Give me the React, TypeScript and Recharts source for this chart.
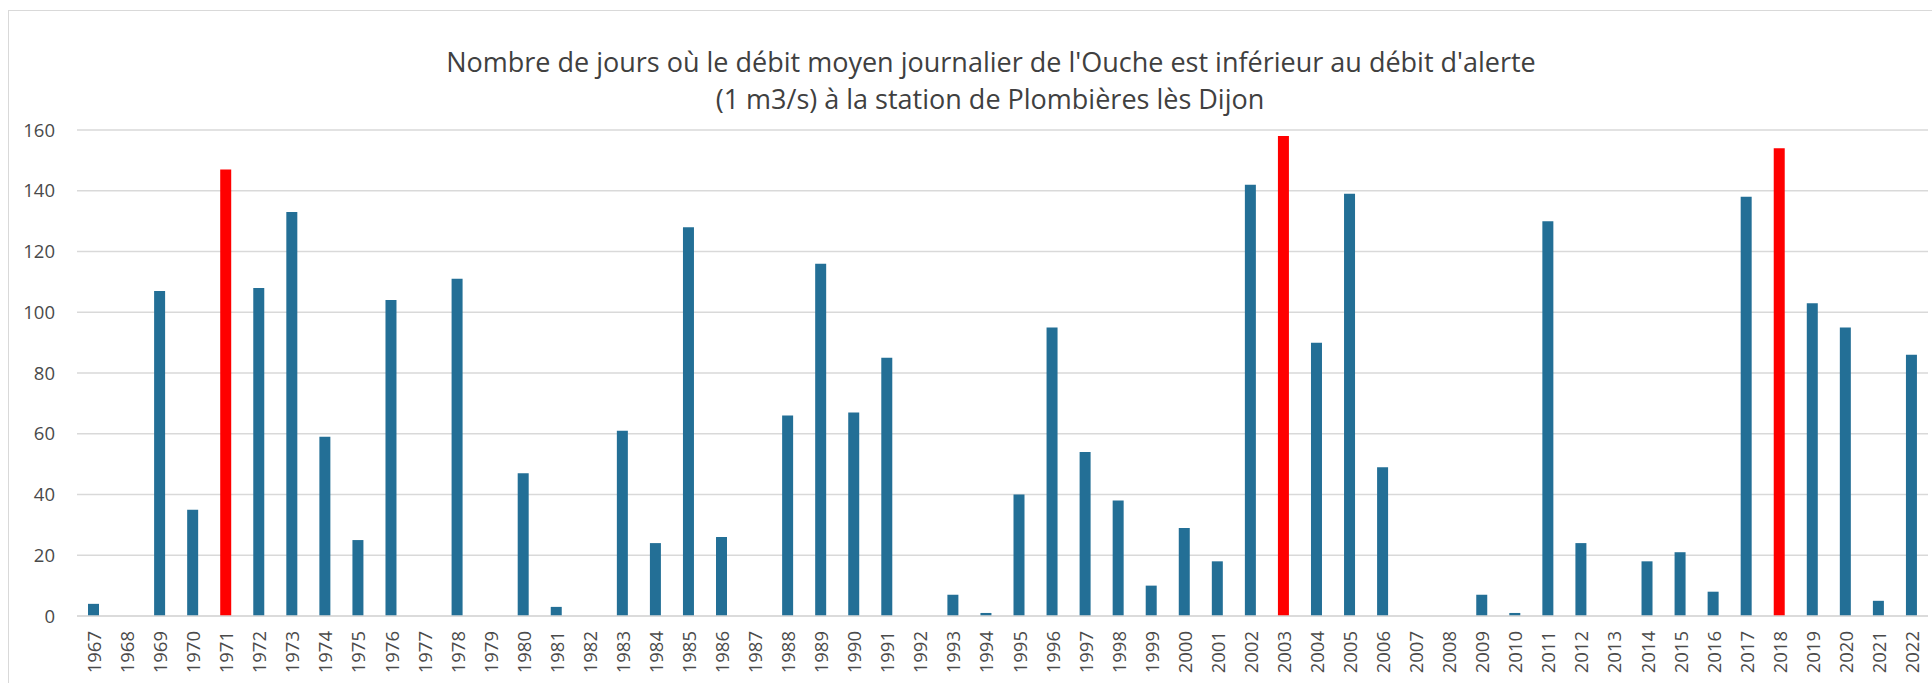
import React from 'react';
import { BarChart, Bar, XAxis, YAxis, CartesianGrid, Cell } from 'recharts';

const years = [
  '1967', '1968', '1969', '1970', '1971', '1972', '1973', '1974', '1975', '1976',
  '1977', '1978', '1979', '1980', '1981', '1982', '1983', '1984', '1985', '1986',
  '1987', '1988', '1989', '1990', '1991', '1992', '1993', '1994', '1995', '1996',
  '1997', '1998', '1999', '2000', '2001', '2002', '2003', '2004', '2005', '2006',
  '2007', '2008', '2009', '2010', '2011', '2012', '2013', '2014', '2015', '2016',
  '2017', '2018', '2019', '2020', '2021', '2022',
];

const days = [
  4, 0, 107, 35, 147, 108, 133, 59, 25, 104,
  0, 111, 0, 47, 3, 0, 61, 24, 128, 26,
  0, 66, 116, 67, 85, 0, 7, 1, 40, 95,
  54, 38, 10, 29, 18, 142, 158, 90, 139, 49,
  0, 0, 7, 1, 130, 24, 0, 18, 21, 8,
  138, 154, 103, 95, 5, 86,
];

const highlightYears = ['1971', '2003', '2018'];

const yTicks = [0, 20, 40, 60, 80, 100, 120, 140, 160];

const titleLines = [
  "Nombre de jours où le débit moyen journalier de l'Ouche est inférieur au débit d'alerte",
  '(1 m3/s) à la station de Plombières lès Dijon',
];

const data = years.map((year, i) => ({ year, days: days[i] }));

const FONT = "'Open Sans', sans-serif";
const TEXT = '#4A4A4A';
const TITLE = '#404040';
const BLUE = '#236F96';
const RED = '#FF0000';

const XTick = (props: any) => {
  const { x, y, payload } = props;
  return (
    <text
      transform={`translate(${x},${y + 15}) rotate(-90)`}
      textAnchor="end"
      dominantBaseline="central"
      fill={TEXT}
      fontSize={18.5}
      fontFamily={FONT}
    >
      {payload.value}
    </text>
  );
};

export default function App() {
  return (
    <div
      style={{
        position: 'absolute',
        left: 0,
        top: 0,
        width: 1932,
        height: 683,
        overflow: 'hidden',
        background: '#ffffff',
      }}
    >
      <div
        style={{
          position: 'absolute',
          left: 8,
          top: 10,
          width: 1960,
          height: 720,
          border: '1.5px solid #D9D9D9',
          boxSizing: 'border-box',
        }}
      />
      <svg
        width={1932}
        height={130}
        style={{ position: 'absolute', left: 0, top: 0 }}
      >
        <text x={991} y={72} textAnchor="middle" fill={TITLE} fontSize={27} fontFamily={FONT}>
          {titleLines[0]}
        </text>
        <text x={990} y={109} textAnchor="middle" fill={TITLE} fontSize={27} fontFamily={FONT}>
          {titleLines[1]}
        </text>
      </svg>
      <div style={{ position: 'absolute', left: 0, top: 0 }}>
        <BarChart
          width={1932}
          height={683}
          data={data}
          margin={{ top: 130, right: 4, left: 0, bottom: 0 }}
        >
          <CartesianGrid vertical={false} stroke="#D9D9D9" strokeWidth={1.3} />
          <XAxis
            dataKey="year"
            interval={0}
            height={67}
            tickLine={false}
            tickSize={0}
            tickMargin={0}
            axisLine={{ stroke: '#D9D9D9', strokeWidth: 1.3 }}
            tick={<XTick />}
          />
          <YAxis
            width={77}
            domain={[0, 160]}
            ticks={yTicks}
            interval={0}
            axisLine={false}
            tickLine={false}
            tickSize={0}
            tickMargin={22}
            tick={{ fill: TEXT, fontSize: 18.5, fontFamily: FONT }}
          />
          <Bar dataKey="days" barSize={11} isAnimationActive={false}>
            {data.map((d) => (
              <Cell key={d.year} fill={highlightYears.includes(d.year) ? RED : BLUE} />
            ))}
          </Bar>
        </BarChart>
      </div>
    </div>
  );
}
